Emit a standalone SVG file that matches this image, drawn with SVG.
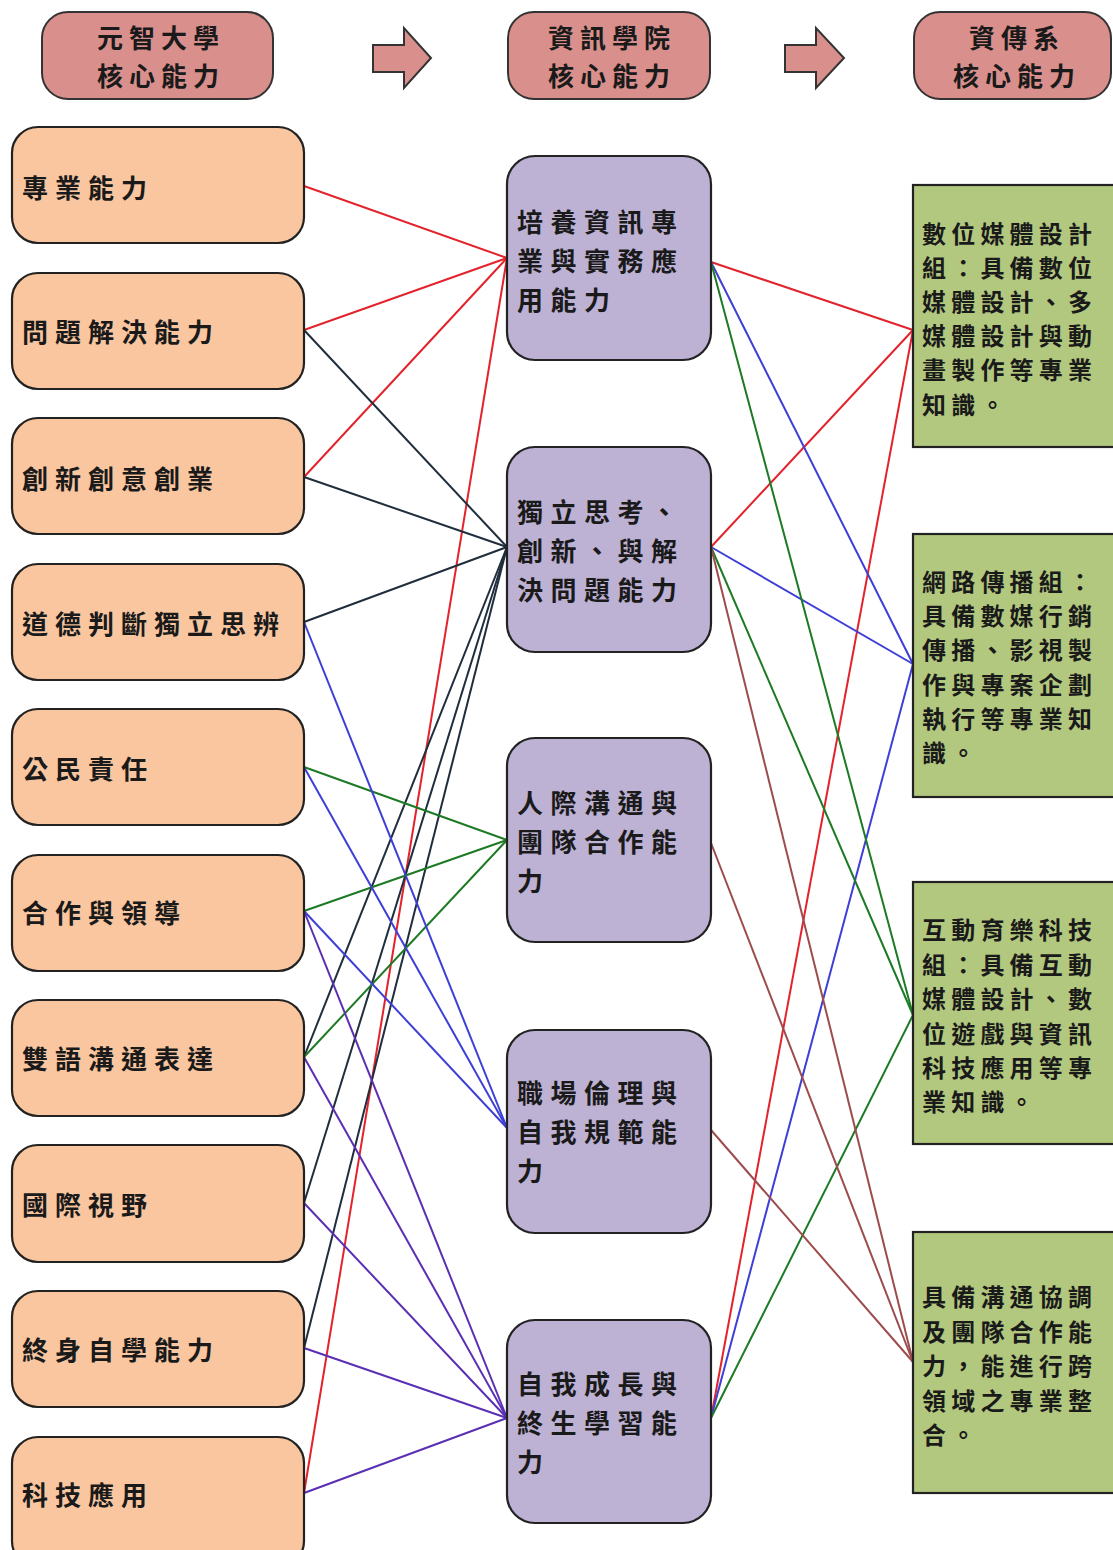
<svg xmlns="http://www.w3.org/2000/svg" width="1113" height="1550" viewBox="0 0 1113 1550">
<style>
text{font-family:"Noto Sans CJK TC","Noto Sans CJK SC",sans-serif;font-weight:bold;fill:#1a1a1a;dominant-baseline:central}
.hd{fill:#d98f8b;stroke:#333;stroke-width:2}
.lb{fill:#f9c6a0;stroke:#222;stroke-width:2.2}
.mb{fill:#bdb1d4;stroke:#222;stroke-width:2.2}
.rb{fill:#b3c87f;stroke:#222;stroke-width:2.2}
.ht{font-size:26px;letter-spacing:6px;text-anchor:middle}
.lt{font-size:26px;letter-spacing:7px}
.mt{font-size:26px;letter-spacing:7.5px}
.rt{font-size:24px;letter-spacing:5.2px}
#connectors line{stroke-width:2;fill:none}
.r{stroke:#e3232c}.n{stroke:#1f2d3c}.b{stroke:#3d3fd6}.g{stroke:#1d7a24}.p{stroke:#5a2fb3}.w{stroke:#9c4c4c}
</style>
<rect width="1113" height="1550" fill="#ffffff"/>
<g id="header1"><rect class="hd" x="42" y="12" width="231" height="87" rx="26"/><text class="ht" x="161" y="36">元智大學</text><text class="ht" x="161" y="74">核心能力</text></g>
<g id="arrow1"><polygon class="hd" points="373,45 404,45 404,28 431,58 404,88 404,72 373,72"/></g>
<g id="header2"><rect class="hd" x="508" y="12" width="202" height="87" rx="26"/><text class="ht" x="612" y="36">資訊學院</text><text class="ht" x="612" y="74">核心能力</text></g>
<g id="arrow2"><polygon class="hd" points="785,45 816,45 816,28 844,58 816,88 816,72 785,72"/></g>
<g id="header3"><rect class="hd" x="914" y="12" width="197" height="87" rx="26"/><text class="ht" x="1017" y="36">資傳系</text><text class="ht" x="1017" y="74">核心能力</text></g>

<g id="connectors">
<line class="r" x1="304" y1="186" x2="507" y2="258"/>
<line class="r" x1="304" y1="330" x2="507" y2="258"/>
<line class="r" x1="304" y1="477" x2="507" y2="258"/>
<line class="r" x1="304" y1="1493" x2="507" y2="258"/>
<line class="n" x1="304" y1="330" x2="507" y2="547"/>
<line class="n" x1="304" y1="477" x2="507" y2="547"/>
<line class="n" x1="304" y1="622" x2="507" y2="547"/>
<line class="n" x1="304" y1="1057" x2="507" y2="547"/>
<line class="n" x1="304" y1="1203" x2="507" y2="547"/>
<line class="n" x1="304" y1="1348" x2="507" y2="547"/>
<line class="g" x1="304" y1="767" x2="507" y2="840"/>
<line class="g" x1="304" y1="911" x2="507" y2="840"/>
<line class="g" x1="304" y1="1057" x2="507" y2="840"/>
<line class="b" x1="304" y1="622" x2="507" y2="1128"/>
<line class="b" x1="304" y1="767" x2="507" y2="1128"/>
<line class="b" x1="304" y1="911" x2="507" y2="1128"/>
<line class="p" x1="304" y1="911" x2="507" y2="1418"/>
<line class="p" x1="304" y1="1057" x2="507" y2="1418"/>
<line class="p" x1="304" y1="1203" x2="507" y2="1418"/>
<line class="p" x1="304" y1="1348" x2="507" y2="1418"/>
<line class="p" x1="304" y1="1493" x2="507" y2="1418"/>
<line class="r" x1="711" y1="262" x2="913" y2="330"/>
<line class="r" x1="711" y1="547" x2="913" y2="330"/>
<line class="r" x1="711" y1="1418" x2="913" y2="330"/>
<line class="b" x1="711" y1="262" x2="913" y2="664"/>
<line class="b" x1="711" y1="547" x2="913" y2="664"/>
<line class="b" x1="711" y1="1418" x2="913" y2="664"/>
<line class="g" x1="711" y1="262" x2="913" y2="1015"/>
<line class="g" x1="711" y1="547" x2="913" y2="1015"/>
<line class="g" x1="711" y1="1418" x2="913" y2="1015"/>
<line class="w" x1="711" y1="547" x2="913" y2="1362"/>
<line class="w" x1="711" y1="843" x2="913" y2="1362"/>
<line class="w" x1="711" y1="1130" x2="913" y2="1362"/>
</g>

<g id="L1"><rect class="lb" x="12" y="127" width="292" height="116" rx="26"/><text class="lt" x="22" y="186">專業能力</text></g>
<g id="L2"><rect class="lb" x="12" y="273" width="292" height="116" rx="26"/><text class="lt" x="22" y="330">問題解決能力</text></g>
<g id="L3"><rect class="lb" x="12" y="418" width="292" height="116" rx="26"/><text class="lt" x="22" y="477">創新創意創業</text></g>
<g id="L4"><rect class="lb" x="12" y="564" width="292" height="116" rx="26"/><text class="lt" x="22" y="622">道德判斷獨立思辨</text></g>
<g id="L5"><rect class="lb" x="12" y="709" width="292" height="116" rx="26"/><text class="lt" x="22" y="767">公民責任</text></g>
<g id="L6"><rect class="lb" x="12" y="855" width="292" height="116" rx="26"/><text class="lt" x="22" y="911">合作與領導</text></g>
<g id="L7"><rect class="lb" x="12" y="1000" width="292" height="116" rx="26"/><text class="lt" x="22" y="1057">雙語溝通表達</text></g>
<g id="L8"><rect class="lb" x="12" y="1145" width="292" height="117" rx="26"/><text class="lt" x="22" y="1203">國際視野</text></g>
<g id="L9"><rect class="lb" x="12" y="1291" width="292" height="116" rx="26"/><text class="lt" x="22" y="1348">終身自學能力</text></g>
<g id="L10"><rect class="lb" x="12" y="1437" width="292" height="130" rx="26"/><text class="lt" x="22" y="1493">科技應用</text></g>

<g id="M1"><rect class="mb" x="507" y="156" width="204" height="204" rx="28"/><text class="mt" x="517" y="220">培養資訊專</text><text class="mt" x="517" y="259">業與實務應</text><text class="mt" x="517" y="298">用能力</text></g>
<g id="M2"><rect class="mb" x="507" y="447" width="204" height="205" rx="28"/><text class="mt" x="517" y="510">獨立思考、</text><text class="mt" x="517" y="549">創新、與解</text><text class="mt" x="517" y="588">決問題能力</text></g>
<g id="M3"><rect class="mb" x="507" y="738" width="204" height="204" rx="28"/><text class="mt" x="517" y="801">人際溝通與</text><text class="mt" x="517" y="840">團隊合作能</text><text class="mt" x="517" y="879">力</text></g>
<g id="M4"><rect class="mb" x="507" y="1030" width="204" height="203" rx="28"/><text class="mt" x="517" y="1091">職場倫理與</text><text class="mt" x="517" y="1130">自我規範能</text><text class="mt" x="517" y="1169">力</text></g>
<g id="M5"><rect class="mb" x="507" y="1320" width="204" height="203" rx="28"/><text class="mt" x="517" y="1382">自我成長與</text><text class="mt" x="517" y="1421">終生學習能</text><text class="mt" x="517" y="1460">力</text></g>

<g id="R1"><rect class="rb" x="913" y="185" width="210" height="262"/><text class="rt" x="922" y="232">數位媒體設計</text><text class="rt" x="922" y="266">組：具備數位</text><text class="rt" x="922" y="300">媒體設計、多</text><text class="rt" x="922" y="334">媒體設計與動</text><text class="rt" x="922" y="368">畫製作等專業</text><text class="rt" x="922" y="403">知識。</text></g>
<g id="R2"><rect class="rb" x="913" y="534" width="210" height="263"/><text class="rt" x="922" y="580">網路傳播組：</text><text class="rt" x="922" y="614">具備數媒行銷</text><text class="rt" x="922" y="648">傳播、影視製</text><text class="rt" x="922" y="683">作與專案企劃</text><text class="rt" x="922" y="717">執行等專業知</text><text class="rt" x="922" y="751">識。</text></g>
<g id="R3"><rect class="rb" x="913" y="882" width="210" height="262"/><text class="rt" x="922" y="928">互動育樂科技</text><text class="rt" x="922" y="963">組：具備互動</text><text class="rt" x="922" y="997">媒體設計、數</text><text class="rt" x="922" y="1032">位遊戲與資訊</text><text class="rt" x="922" y="1066">科技應用等專</text><text class="rt" x="922" y="1100">業知識。</text></g>
<g id="R4"><rect class="rb" x="913" y="1232" width="210" height="261"/><text class="rt" x="922" y="1295">具備溝通協調</text><text class="rt" x="922" y="1330">及團隊合作能</text><text class="rt" x="922" y="1364">力，能進行跨</text><text class="rt" x="922" y="1399">領域之專業整</text><text class="rt" x="922" y="1433">合。</text></g>
</svg>
